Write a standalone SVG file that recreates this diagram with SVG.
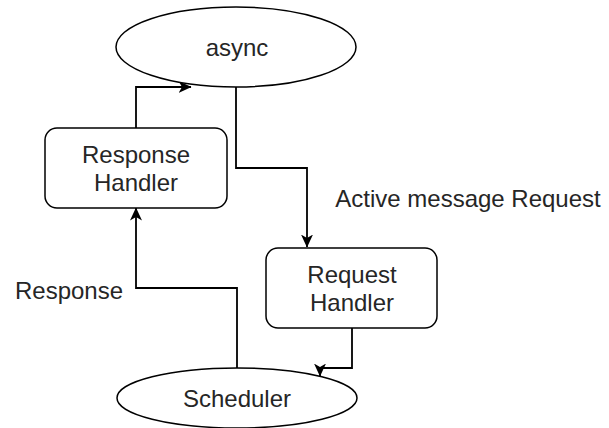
<svg xmlns="http://www.w3.org/2000/svg" width="609" height="428" viewBox="0 0 609 428">
  <style>
    .shape { fill: #ffffff; stroke: #000000; stroke-width: 1.5; }
    .edge { fill: none; stroke: #000000; stroke-width: 1.8; }
    .lbl { font-family: "Liberation Sans", Arial, sans-serif; font-size: 24px; fill: #262626; text-anchor: middle; }
  </style>
  <defs>
    <!-- classic notched arrowhead -->
    <marker id="arrow" viewBox="0 0 13 12" refX="12.5" refY="6" markerWidth="13" markerHeight="12" orient="auto" markerUnits="userSpaceOnUse">
      <path d="M0,0 L13,6 L0,12 L3.5,6 Z" fill="#000000"/>
    </marker>
  </defs>
  <rect width="609" height="428" fill="#ffffff"/>

  <g id="edges">
    <!-- Response Handler -> async -->
    <path class="edge" d="M136,128 V87 H191" marker-end="url(#arrow)"/>
    <!-- async -> Request Handler -->
    <path class="edge" d="M236,87 V168 H307 V247" marker-end="url(#arrow)"/>
    <!-- Request Handler -> Scheduler -->
    <path class="edge" d="M352,328 V368 H320 V376" marker-end="url(#arrow)"/>
    <!-- Scheduler -> Response Handler -->
    <path class="edge" d="M237,369 V288 H136 V208" marker-end="url(#arrow)"/>
  </g>

  <g id="async">
    <ellipse class="shape" cx="236" cy="47" rx="120" ry="40"/>
    <text class="lbl" x="237" y="56">async</text>
  </g>

  <g id="response-handler">
    <rect class="shape" x="45" y="128" width="182" height="80" rx="12"/>
    <text class="lbl" x="136" y="163">Response</text>
    <text class="lbl" x="136" y="191">Handler</text>
  </g>

  <g id="request-handler">
    <rect class="shape" x="266" y="248" width="171" height="80" rx="12"/>
    <text class="lbl" x="352" y="283">Request</text>
    <text class="lbl" x="352" y="311">Handler</text>
  </g>

  <g id="scheduler">
    <ellipse class="shape" cx="237" cy="398" rx="120" ry="30"/>
    <text class="lbl" x="237" y="407">Scheduler</text>
  </g>

  <g id="edge-labels">
    <text class="lbl" x="468" y="207">Active message Request</text>
    <text class="lbl" x="69" y="299">Response</text>
  </g>
</svg>
